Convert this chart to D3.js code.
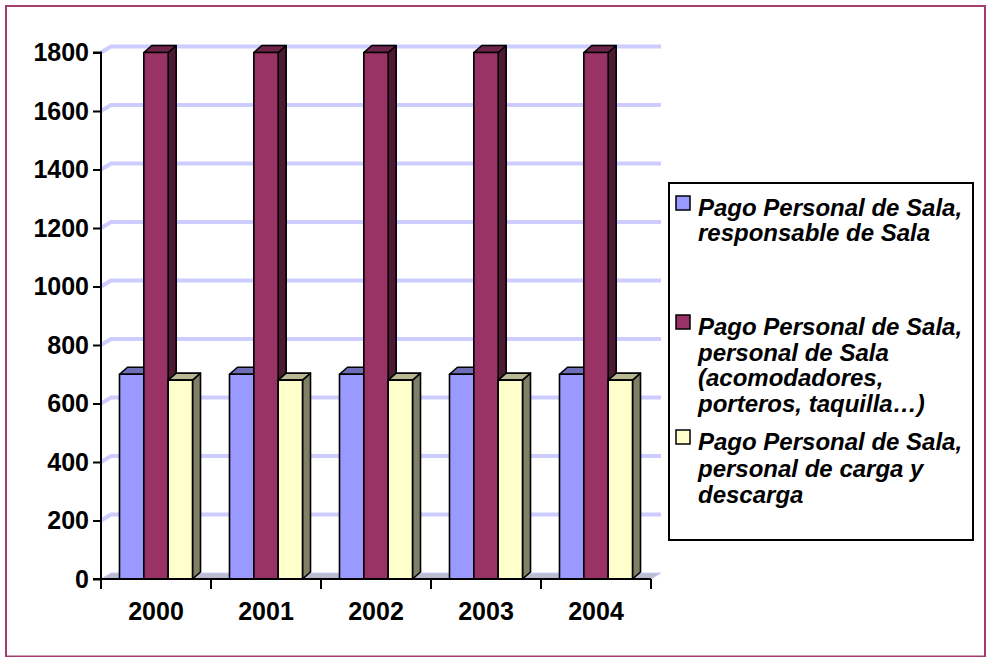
<!DOCTYPE html>
<html>
<head>
<meta charset="utf-8">
<script src="https://cdn.jsdelivr.net/npm/d3@7"></script>
<style>
  html, body { margin: 0; padding: 0; background: #ffffff; }
  svg { display: block; }
  text { font-family: Arial, "Liberation Sans", sans-serif; font-weight: bold; }
</style>
</head>
<body>
<svg id="chart" width="989" height="657"></svg>
<script>
// ---- data ----
const years = ["2000", "2001", "2002", "2003", "2004"];
const seriesNames = [
  "Pago Personal de Sala, responsable de Sala",
  "Pago Personal de Sala, personal de Sala (acomodadores, porteros, taquilla…)",
  "Pago Personal de Sala, personal de carga y descarga"
];
const legendLines = [
  ["Pago Personal de Sala,", "responsable de Sala"],
  ["Pago Personal de Sala,", "personal de Sala", "(acomodadores,", "porteros, taquilla…)"],
  ["Pago Personal de Sala,", "personal de carga y", "descarga"]
];
const responsable = [700, 700, 700, 700, 700];
const personalSala = [1800, 1800, 1800, 1800, 1800];
const cargaDescarga = [680, 680, 680, 680, 680];
const yTicks = [0, 200, 400, 600, 800, 1000, 1200, 1400, 1600, 1800];
const seriesColors = ["#9999ff", "#993366", "#ffffcc"];

const seriesValues = [responsable, personalSala, cargaDescarga];

(function () {
// ---- layout ----
const svg = d3.select("#chart");
const pLeft = 101, pRight = 651, pBottom = 579, pTop = 52.5;
const wallDx = 10, wallDy = -6;   // back-wall depth offset
const barDx = 8, barDy = -7;      // bar depth offset

const x = d3.scaleBand().domain(years).range([pLeft, pRight]).paddingInner(0).paddingOuter(0);
const xs = d3.scaleBand().domain(d3.range(seriesNames.length)).range([0, x.bandwidth()]).paddingInner(0).paddingOuter(0.76);
const y = d3.scaleLinear().domain([0, 1800]).range([pBottom, pTop]);

// outer frame
svg.append("rect")
  .attr("x", 6).attr("y", 6).attr("width", 979).attr("height", 650.5)
  .attr("fill", "none").attr("stroke", "#a33d6f").attr("stroke-width", 2);

// gridlines on back wall
const grid = svg.append("g");
yTicks.filter(t => t > 0).forEach(t => {
  const yy = y(t);
  grid.append("path")
    .attr("d", `M${pLeft},${yy} L${pLeft + wallDx},${yy + wallDy} L${pRight + wallDx},${yy + wallDy}`)
    .attr("fill", "none").attr("stroke", "#ccccff").attr("stroke-width", 4);
});

// floor
svg.append("path")
  .attr("d", `M${pLeft},${pBottom} L${pLeft + wallDx},${pBottom + wallDy} L${pRight + wallDx},${pBottom + wallDy} L${pRight},${pBottom} Z`)
  .attr("fill", "#bcbcd0").attr("stroke", "#ccccff").attr("stroke-width", 1);

// bars
const shade = (c, k) => { const r = d3.rgb(c); return d3.rgb(r.r * k, r.g * k, r.b * k).formatHex(); };
const barsG = svg.append("g");
years.forEach((yr, i) => {
  seriesValues.forEach((vals, s) => {
    const x0 = x(yr) + xs(s), w = xs.bandwidth();
    const y0 = y(vals[i]), y1 = y(0);
    const col = seriesColors[s];
    const g = barsG.append("g").attr("stroke", "#000").attr("stroke-width", 1.6).attr("stroke-linejoin", "round");
    g.append("path")
      .attr("d", `M${x0 + w},${y0} L${x0 + w + barDx},${y0 + barDy} L${x0 + w + barDx},${y1 + barDy} L${x0 + w},${y1} Z`)
      .attr("fill", shade(col, 0.5));
    g.append("path")
      .attr("d", `M${x0},${y0} L${x0 + barDx},${y0 + barDy} L${x0 + w + barDx},${y0 + barDy} L${x0 + w},${y0} Z`)
      .attr("fill", shade(col, 0.72));
    g.append("rect")
      .attr("x", x0).attr("y", y0).attr("width", w).attr("height", y1 - y0)
      .attr("fill", col);
  });
});

// axes
const yAxis = d3.axisLeft(y).tickValues(yTicks).tickSize(8).tickPadding(4).tickFormat(d3.format("d"));
const gy = svg.append("g").attr("transform", `translate(${pLeft},0)`).call(yAxis);
gy.select(".domain").attr("stroke", "#000").attr("stroke-width", 2).attr("d", `M-8,${pTop}H0V${pBottom}H-8`);
gy.selectAll(".tick line").attr("stroke", "#000").attr("stroke-width", 2);
gy.selectAll(".tick text").attr("font-size", 25).attr("fill", "#000")
  .attr("font-family", "Arial, 'Liberation Sans', sans-serif").attr("font-weight", "bold");

const xAxis = d3.axisBottom(x).tickSize(0).tickPadding(0);
const gx = svg.append("g").attr("transform", `translate(0,${pBottom})`).call(xAxis);
gx.select(".domain").attr("stroke", "#000").attr("stroke-width", 2).attr("d", `M${pLeft},0H${pRight}`);
gx.selectAll(".tick text").attr("font-size", 25).attr("fill", "#000").attr("dy", 0).attr("y", 41)
  .attr("font-family", "Arial, 'Liberation Sans', sans-serif").attr("font-weight", "bold");
gx.selectAll(".bound").data(d3.range(years.length + 1)).enter().append("line")
  .attr("class", "bound")
  .attr("x1", i => pLeft + i * x.step()).attr("x2", i => pLeft + i * x.step())
  .attr("y1", 0).attr("y2", 10).attr("stroke", "#000").attr("stroke-width", 2);

// legend
const lg = svg.append("g");
lg.append("rect").attr("x", 669).attr("y", 183).attr("width", 304).attr("height", 357)
  .attr("fill", "#fff").attr("stroke", "#000").attr("stroke-width", 2);
const itemBaselines = [216, 335, 450];
const lineH = [25, 25.5, 26.5];
legendLines.forEach((lines, s) => {
  const b = itemBaselines[s];
  lg.append("rect").attr("x", 676).attr("y", b - 20).attr("width", 14).attr("height", 14)
    .attr("fill", seriesColors[s]).attr("stroke", "#000").attr("stroke-width", 1.5);
  const t = lg.append("text").attr("x", 698).attr("y", b)
    .attr("font-size", 24).attr("font-style", "italic").attr("fill", "#000");
  lines.forEach((ln, k) => {
    t.append("tspan").attr("x", 698).attr("y", b + k * lineH[s]).text(ln);
  });
});
})();
</script>
</body>
</html>
